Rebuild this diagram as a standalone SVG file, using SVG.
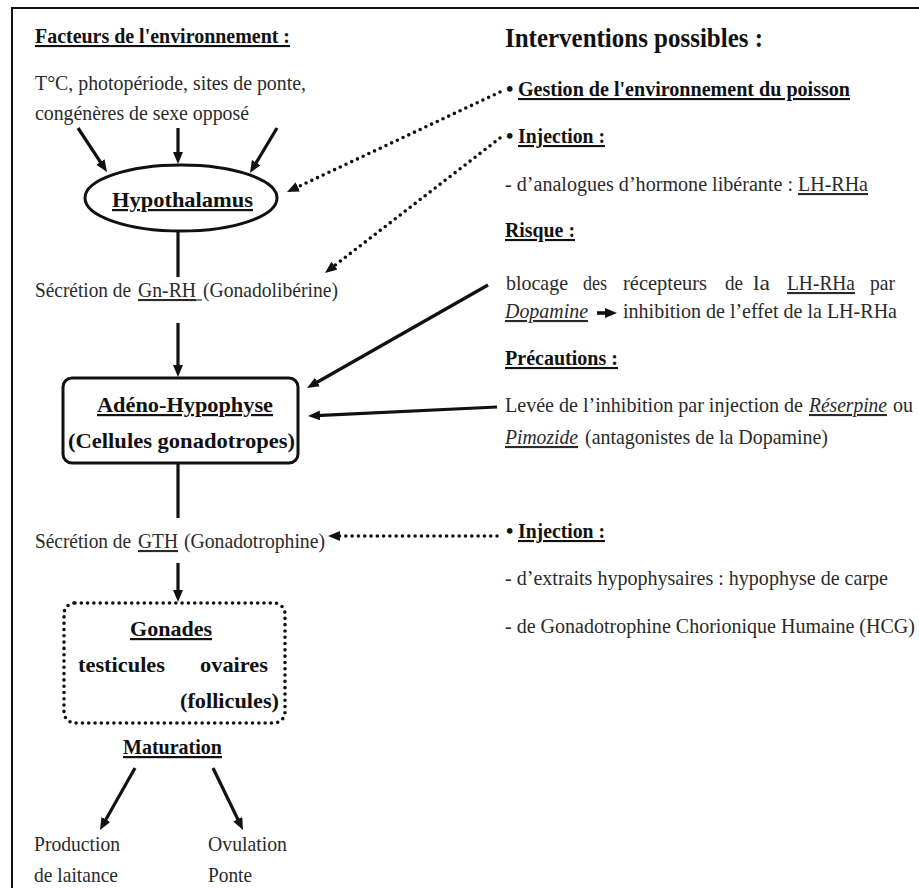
<svg xmlns="http://www.w3.org/2000/svg" width="919" height="888" viewBox="0 0 919 888">
<defs>
<style>
text{font-family:"Liberation Serif","Times New Roman",serif;font-size:21px;fill:#2a2a2a}
.b{font-weight:bold;fill:#111}
.u{text-decoration:underline}
.i{font-style:italic}
.h1{font-size:28px}
.h2{font-size:21px}
.lb{font-size:22px}
.sm{font-size:20px}
.sol{fill:none;stroke:#111;stroke-width:3.2;stroke-linecap:butt}
.dot{fill:none;stroke:#111;stroke-width:3.6;stroke-linecap:round;stroke-dasharray:0 6.3}
.shape{fill:#fff;stroke:#111;stroke-width:3}
</style>
<marker id="ah" markerUnits="userSpaceOnUse" markerWidth="13" markerHeight="11" refX="4" refY="5" orient="auto">
<path d="M0,0 L12,5 L0,10 z" fill="#111"/>
</marker>
</defs>
<rect width="919" height="888" fill="#fff"/>
<g id="frame">
<path d="M12,888 V8 H919" fill="none" stroke="#111" stroke-width="2"/>
</g>

<g id="connectors">
<line class="sol" x1="78" y1="128" x2="102.6" y2="165.3" marker-end="url(#ah)"/>
<line class="sol" x1="178" y1="128" x2="178" y2="156" marker-end="url(#ah)"/>
<line class="sol" x1="277" y1="128" x2="254.1" y2="166.1" marker-end="url(#ah)"/>
<line class="sol" x1="178" y1="232" x2="178" y2="277"/>
<line class="sol" x1="178" y1="323" x2="178" y2="369" marker-end="url(#ah)"/>
<line class="sol" x1="178" y1="463" x2="178" y2="518"/>
<line class="sol" x1="178" y1="563" x2="178" y2="594" marker-end="url(#ah)"/>
<line class="sol" x1="135" y1="768" x2="103.9" y2="823" marker-end="url(#ah)"/>
<line class="sol" x1="213" y1="768" x2="239.5" y2="822.8" marker-end="url(#ah)"/>
<line class="dot" x1="500" y1="92" x2="294.2" y2="188.6" marker-end="url(#ah)"/>
<line class="dot" x1="500" y1="138" x2="331.3" y2="268.1" marker-end="url(#ah)"/>
<line class="sol" x1="488" y1="285" x2="314" y2="384" marker-end="url(#ah)"/>
<line class="sol" x1="497" y1="407" x2="316" y2="415.6" marker-end="url(#ah)"/>
<line class="dot" x1="497" y1="536" x2="336" y2="536" marker-end="url(#ah)"/>
<line class="sol" x1="597" y1="313" x2="609" y2="313" marker-end="url(#ah)" style="stroke-width:3.6"/>
</g>

<g id="facteurs">
<text x="35" y="43" class="b u" textLength="255" lengthAdjust="spacingAndGlyphs">Facteurs de l'environnement :</text>
<text x="35" y="90" textLength="271" lengthAdjust="spacingAndGlyphs">T°C, photopériode, sites de ponte,</text>
<text x="35" y="120" textLength="214" lengthAdjust="spacingAndGlyphs">congénères de sexe opposé</text>
</g>

<g id="hypothalamus">
<ellipse class="shape" cx="181" cy="198" rx="96" ry="33"/>
<text x="112" y="207" class="b u lb" textLength="141" lengthAdjust="spacingAndGlyphs">Hypothalamus</text>
</g>

<g id="gnrh">
<text x="35" y="297" textLength="96" lengthAdjust="spacingAndGlyphs">Sécrétion de</text>
<text x="138" y="297" class="u" textLength="58" lengthAdjust="spacingAndGlyphs">Gn-RH</text>
<line x1="195" y1="300" x2="202" y2="300" stroke="#2a2a2a" stroke-width="1.2"/>
<text x="203" y="297" textLength="135" lengthAdjust="spacingAndGlyphs">(Gonadolibérine)</text>
</g>

<g id="adeno">
<rect class="shape" x="63" y="378" width="235" height="85" rx="9"/>
<text x="97" y="412" class="b u lb" textLength="176" lengthAdjust="spacingAndGlyphs">Adéno-Hypophyse</text>
<text x="68" y="448" class="b lb" textLength="227" lengthAdjust="spacingAndGlyphs">(Cellules gonadotropes)</text>
</g>

<g id="gth">
<text x="35" y="548" textLength="96" lengthAdjust="spacingAndGlyphs">Sécrétion de</text>
<text x="138" y="548" class="u" textLength="40" lengthAdjust="spacingAndGlyphs">GTH</text>
<text x="184" y="548" textLength="141" lengthAdjust="spacingAndGlyphs">(Gonadotrophine)</text>
</g>

<g id="gonades">
<rect x="64" y="603" width="221" height="120" rx="11" class="dot"/>
<text x="130" y="636" class="b u lb" textLength="82" lengthAdjust="spacingAndGlyphs">Gonades</text>
<text x="78" y="672" class="b lb" textLength="87" lengthAdjust="spacingAndGlyphs">testicules</text>
<text x="200" y="672" class="b lb" textLength="68" lengthAdjust="spacingAndGlyphs">ovaires</text>
<text x="180" y="708" class="b lb" textLength="99" lengthAdjust="spacingAndGlyphs">(follicules)</text>
</g>

<g id="maturation">
<text x="123" y="754" class="b u lb" textLength="99" lengthAdjust="spacingAndGlyphs">Maturation</text>
</g>

<g id="laitance">
<text x="34" y="851" textLength="86" lengthAdjust="spacingAndGlyphs">Production</text>
<text x="34" y="882" textLength="84" lengthAdjust="spacingAndGlyphs">de laitance</text>
</g>

<g id="ovulation">
<text x="208" y="851" textLength="79" lengthAdjust="spacingAndGlyphs">Ovulation</text>
<text x="208" y="882" textLength="44" lengthAdjust="spacingAndGlyphs">Ponte</text>
</g>

<g id="interventions">
<text x="505" y="47" class="b h1" textLength="258" lengthAdjust="spacingAndGlyphs">Interventions possibles :</text>
</g>

<g id="gestion">
<text x="506" y="96" class="b h2">•</text>
<text x="518" y="96" class="b u h2" textLength="332" lengthAdjust="spacingAndGlyphs">Gestion de l'environnement du poisson</text>
</g>

<g id="injection1">
<text x="506" y="143" class="b h2">•</text>
<text x="518" y="143" class="b u h2" textLength="87" lengthAdjust="spacingAndGlyphs">Injection :</text>
<text x="505" y="191" class="sm" textLength="288" lengthAdjust="spacingAndGlyphs">- d’analogues d’hormone libérante :</text>
<text x="798" y="191" class="u" textLength="70" lengthAdjust="spacingAndGlyphs">LH-RHa</text>
<text x="505" y="237" class="b u h2" textLength="70" lengthAdjust="spacingAndGlyphs">Risque :</text>
<text x="506" y="290" textLength="62" lengthAdjust="spacingAndGlyphs">blocage</text>
<text x="583" y="290" textLength="24" lengthAdjust="spacingAndGlyphs">des</text>
<text x="623" y="290" textLength="84" lengthAdjust="spacingAndGlyphs">récepteurs</text>
<text x="725" y="290" textLength="18" lengthAdjust="spacingAndGlyphs">de</text>
<text x="753" y="290" textLength="17" lengthAdjust="spacingAndGlyphs">la</text>
<text x="787" y="290" class="u" textLength="68" lengthAdjust="spacingAndGlyphs">LH-RHa</text>
<text x="870" y="290" textLength="25" lengthAdjust="spacingAndGlyphs">par</text>
<text x="505" y="318" class="i u" textLength="83" lengthAdjust="spacingAndGlyphs">Dopamine</text>
<text x="623" y="318" textLength="274" lengthAdjust="spacingAndGlyphs">inhibition de l’effet de la LH-RHa</text>
<text x="505" y="365" class="b u h2" textLength="113" lengthAdjust="spacingAndGlyphs">Précautions :</text>
<text x="505" y="412" textLength="298" lengthAdjust="spacingAndGlyphs">Levée de l’inhibition par injection de</text>
<text x="809" y="412" class="i u" textLength="78" lengthAdjust="spacingAndGlyphs">Réserpine</text>
<text x="893" y="412" textLength="20" lengthAdjust="spacingAndGlyphs">ou</text>
<text x="505" y="444" class="i u" textLength="73" lengthAdjust="spacingAndGlyphs">Pimozide</text>
<text x="585" y="444" textLength="243" lengthAdjust="spacingAndGlyphs">(antagonistes de la Dopamine)</text>
</g>

<g id="injection2">
<text x="506" y="538" class="b h2">•</text>
<text x="518" y="538" class="b u h2" textLength="87" lengthAdjust="spacingAndGlyphs">Injection :</text>
<text x="505" y="585" textLength="383" lengthAdjust="spacingAndGlyphs">- d’extraits hypophysaires : hypophyse de carpe</text>
<text x="505" y="633" class="sm" textLength="410" lengthAdjust="spacingAndGlyphs">- de Gonadotrophine Chorionique Humaine (HCG)</text>
</g>
</svg>
